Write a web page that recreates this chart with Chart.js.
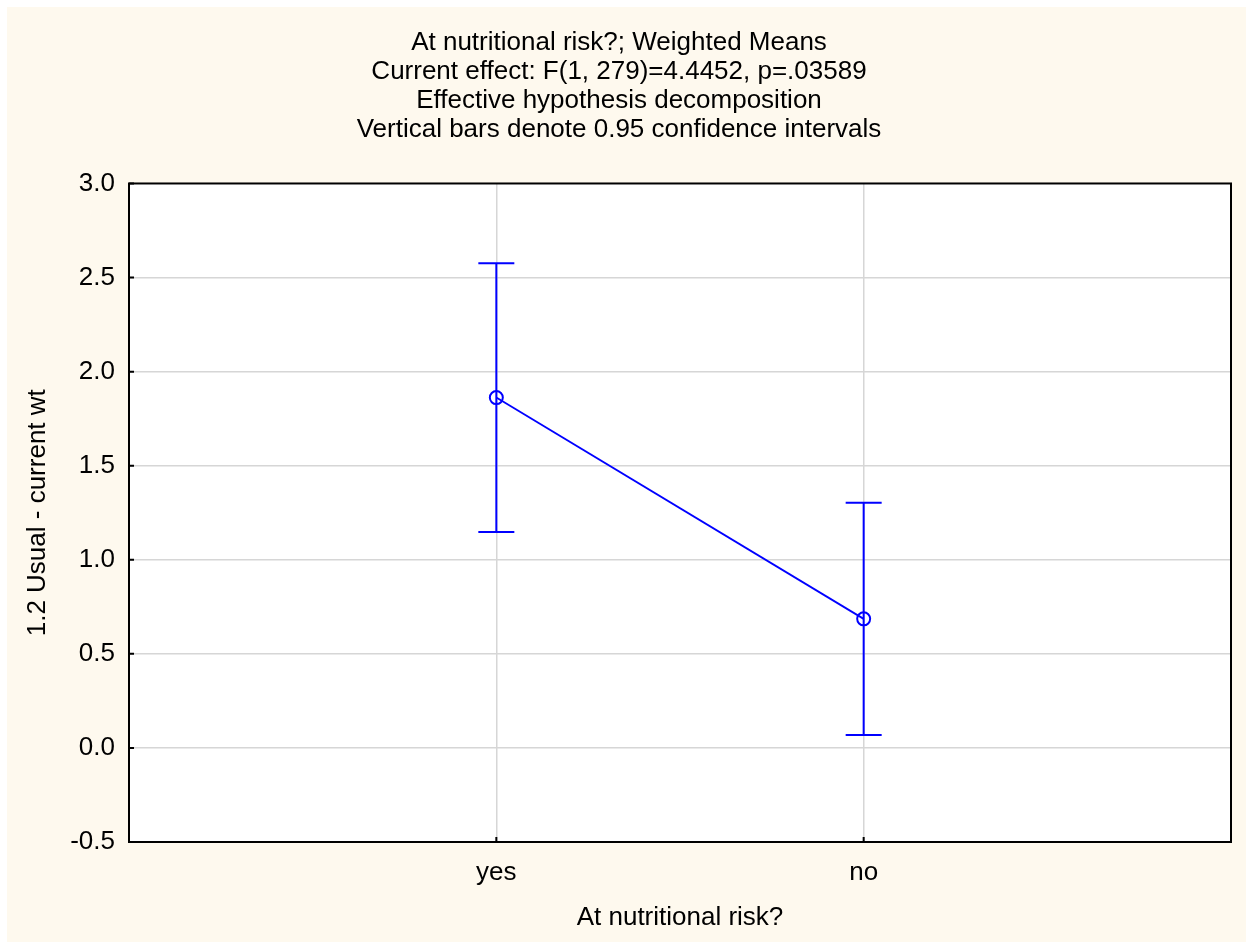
<!DOCTYPE html>
<html>
<head>
<meta charset="utf-8">
<title>At nutritional risk? - Weighted Means</title>
<script src="https://cdn.jsdelivr.net/npm/chart.js@4/dist/chart.umd.min.js"></script>
<style>
  html, body { margin: 0; padding: 0; background: #fff; overflow: hidden; }
  #grafico { position: absolute; left: 7px; top: 7px; background: #fef9ee; }
</style>
</head>
<body>
<canvas id="grafico" width="1239" height="935"></canvas>
<script>
// dados
const categorias = ["yes", "no"];
const posicoes = [1, 2];             // posição de cada categoria no eixo x (0..3)
const medias = [1.862, 0.686];
const icInferior = [1.148, 0.069];
const icSuperior = [2.576, 1.303];
const ticksY = [-0.5, 0.0, 0.5, 1.0, 1.5, 2.0, 2.5, 3.0];

const titulo = [
  "At nutritional risk?; Weighted Means",
  "Current effect: F(1, 279)=4.4452, p=.03589",
  "Effective hypothesis decomposition",
  "Vertical bars denote 0.95 confidence intervals"
];

const AZUL = '#0000ff';
const FONTE = "'Liberation Sans', Arial, sans-serif";

// barras de erro (intervalos de confiança) com as escalas do próprio Chart
const barrasErro = {
  id: 'barrasErro',
  afterDatasetsDraw(chart) {
    const { ctx, scales: { x, y } } = chart;
    ctx.save();
    ctx.strokeStyle = AZUL;
    ctx.lineWidth = 2;
    posicoes.forEach((p, i) => {
      const px = x.getPixelForValue(p);
      const yLo = y.getPixelForValue(icInferior[i]);
      const yHi = y.getPixelForValue(icSuperior[i]);
      ctx.beginPath();
      ctx.moveTo(px, yLo); ctx.lineTo(px, yHi);
      ctx.moveTo(px - 18, yLo); ctx.lineTo(px + 18, yLo);
      ctx.moveTo(px - 18, yHi); ctx.lineTo(px + 18, yHi);
      ctx.stroke();
    });
    ctx.restore();
  }
};

// fundo branco da área do gráfico, moldura preta e pequenos ticks internos
const moldura = {
  id: 'moldura',
  beforeDraw(chart) {
    const { ctx, chartArea: a } = chart;
    ctx.save();
    ctx.fillStyle = '#fff';
    ctx.fillRect(a.left, a.top, a.right - a.left, a.bottom - a.top);
    ctx.restore();
  },
  beforeDatasetsDraw(chart) {
    const { ctx, chartArea: a, scales: { x, y } } = chart;
    ctx.save();
    ctx.strokeStyle = '#000';
    ctx.lineWidth = 2;
    ctx.strokeRect(a.left, a.top, a.right - a.left, a.bottom - a.top);
    ctx.beginPath();
    posicoes.forEach(p => {
      const px = x.getPixelForValue(p);
      ctx.moveTo(px, a.bottom); ctx.lineTo(px, a.bottom - 5);
    });
    ticksY.forEach(v => {
      const py = y.getPixelForValue(v);
      ctx.moveTo(a.left, py); ctx.lineTo(a.left + 5, py);
    });
    ctx.stroke();
    ctx.restore();
  }
};

const canvas = document.getElementById('grafico');
const ctx = canvas.getContext('2d');

new Chart(ctx, {
  type: 'line',
  data: {
    datasets: [{
      data: posicoes.map((p, i) => ({ x: p, y: medias[i] })),
      borderColor: AZUL,
      borderWidth: 1.8,
      pointRadius: 6.5,
      pointBorderWidth: 2,
      pointBorderColor: AZUL,
      pointBackgroundColor: 'rgba(0,0,0,0)',
      tension: 0
    }]
  },
  options: {
    responsive: false,
    animation: false,
    devicePixelRatio: 1,
    layout: { padding: { left: 0, right: 15, top: 0, bottom: 0 } },
    plugins: {
      legend: { display: false },
      tooltip: { enabled: false },
      title: {
        display: true,
        text: titulo,
        color: '#000',
        font: { family: FONTE, size: 26, weight: 'normal', lineHeight: 1.12 },
        padding: { top: 21, bottom: 39 }
      }
    },
    scales: {
      x: {
        type: 'linear',
        min: 0,
        max: 3,
        afterFit(s) { s.height = 100; },
        afterBuildTicks(s) { s.ticks = [0, 1, 2, 3].map(v => ({ value: v })); },
        grid: {
          drawTicks: false,
          tickLength: 0,
          lineWidth: 1.5,
          color: c => (c.tick && (c.tick.value === 0 || c.tick.value === 3)) ? 'rgba(0,0,0,0)' : '#d6d6d6'
        },
        border: { display: false },
        ticks: {
          color: '#000',
          padding: 15,
          maxRotation: 0,
          font: { family: FONTE, size: 26 },
          callback: v => {
            const i = posicoes.indexOf(v);
            return i >= 0 ? categorias[i] : '';
          }
        },
        title: {
          display: true,
          text: 'At nutritional risk?',
          color: '#000',
          font: { family: FONTE, size: 26 },
          padding: { top: 0, bottom: 9 }
        }
      },
      y: {
        min: -0.5,
        max: 3.0,
        afterFit(s) { s.width = 122; },
        afterBuildTicks(s) { s.ticks = ticksY.map(v => ({ value: v })); },
        grid: {
          drawTicks: false,
          tickLength: 0,
          lineWidth: 1.5,
          color: c => (c.tick && (c.tick.value === -0.5 || c.tick.value === 3)) ? 'rgba(0,0,0,0)' : '#d6d6d6'
        },
        border: { display: false },
        ticks: {
          color: '#000',
          padding: 14,
          font: { family: FONTE, size: 26 },
          callback: v => Number(v).toFixed(1)
        },
        title: {
          display: true,
          text: '1.2 Usual - current wt',
          color: '#000',
          font: { family: FONTE, size: 26 },
          padding: { top: 15, bottom: 0 }
        }
      }
    }
  },
  plugins: [moldura, barrasErro]
});
</script>
</body>
</html>
